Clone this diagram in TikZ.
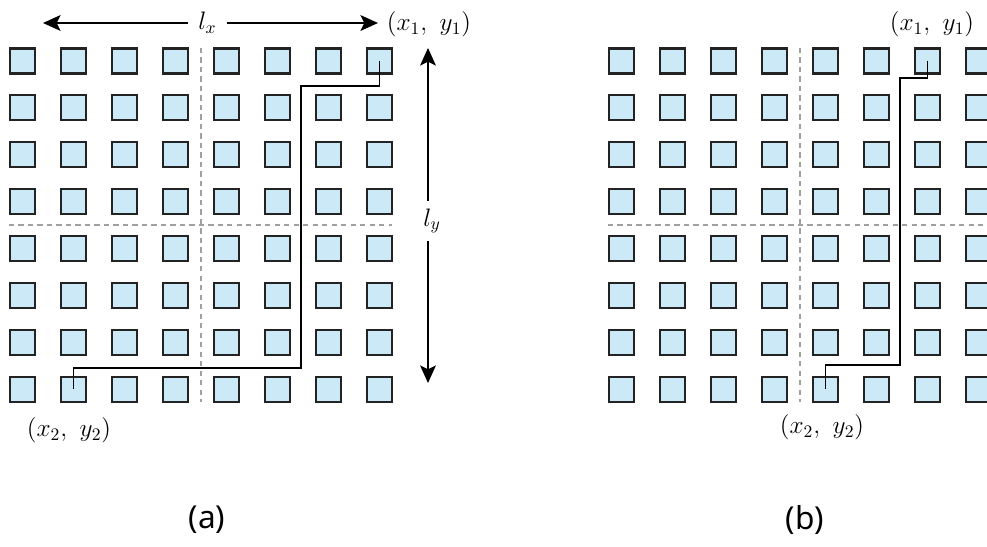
\documentclass[tikz,border=0pt]{standalone}
\usepackage{fontspec}
\newfontfamily\capfont{Noto Sans}
\usetikzlibrary{arrows.meta,positioning}
\definecolor{cellfill}{RGB}{204,233,248}
\definecolor{celledge}{RGB}{35,35,35}
\definecolor{divgray}{RGB}{160,160,160}

\begin{document}
\begin{tikzpicture}[
  x=0.02cm, y=-0.02cm,
  >={Stealth[length=10pt, width=9pt, inset=2.2pt]},
  cell/.style={rectangle, draw=celledge, fill=cellfill, line width=1.2pt,
               minimum size=0.5cm, inner sep=0pt},
  divider/.style={draw=divgray, line width=0.75pt, dash pattern=on 3pt off 2.4pt},
  route/.style={draw=black, line width=1pt},
  dim/.style={->, line width=0.9pt},
  pt/.style={font=\fontsize{14.5}{17}\selectfont, inner sep=0pt},
  sublbl/.style={font=\capfont\fontsize{18}{22}\selectfont, inner sep=0pt},
]
\clip (0,0) rectangle (987,547);
\useasboundingbox (0,0) rectangle (987,547);

% quarter lines
\draw[divider] (201,48) -- (201,402);
\draw[divider] (9,225) -- (392,225);
\draw[divider] (800,48) -- (800,402);
\draw[divider] (608,225) -- (987,225);

% the two grids
\foreach \g/\ox in {a/22.5, b/621.5} {
  \foreach \i in {0,...,7}
    \foreach \j in {0,...,7}
      \node[cell] (\g-\i-\j) at ({\ox+51*\i}, {61+46.9*\j}) {};
}

% routes
\coordinate (ra1) at (301,86);
\coordinate (ra2) at (301,368);
\draw[route] (a-7-0.center) |- (ra1) -- (ra2) -| (a-1-7.center);
\coordinate (rb1) at (900,78);
\coordinate (rb2) at (900,365);
\draw[route] (b-6-0.center) |- (rb1) -- (rb2) -| (b-4-7.center);

% end points
\node[pt] (a-src) at (429,24)  {$(x_1,\ y_1)$};
\node[pt] (a-dst) at (69,430)  {$(x_2,\ y_2)$};
\node[pt] (b-src) at (932,24)  {$(x_1,\ y_1)$};
\node[pt] (b-dst) at (822,427) {$(x_2,\ y_2)$};

% lengths
\coordinate (lx-left)  at (43,23);
\coordinate (lx-right) at (378,23);
\node[pt, inner xsep=5.8pt] (lx) at (207.5,23) {$l_x$};
\draw[dim] (lx.west) -- (lx-left);
\draw[dim] (lx.east) -- (lx-right);

\coordinate (ly-top) at (428,48);
\coordinate (ly-bot) at (428,383);
\node[pt, inner ysep=4pt] (ly) at (432,221) {$l_y$};
\draw[dim] (ly.north -| ly-top) -- (ly-top);
\draw[dim] (ly.south -| ly-bot) -- (ly-bot);

% captions
\node[sublbl] (cap-a) at (207,520) {(a)};
\node[sublbl] (cap-b) at (805,520) {(b)};

\end{tikzpicture}
\end{document}
